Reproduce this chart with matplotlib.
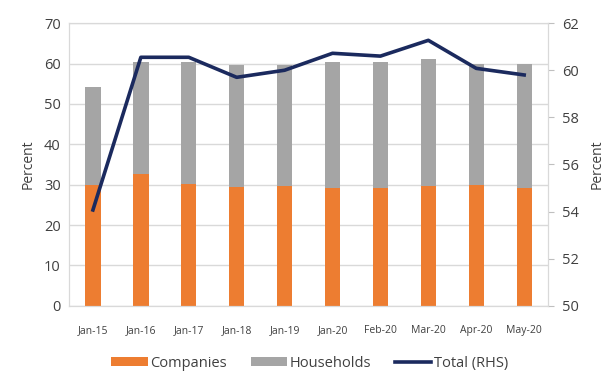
import matplotlib
matplotlib.use("Agg")
import matplotlib.pyplot as plt
import numpy as np

labels = ["Jan-15", "Jan-16", "Jan-17", "Jan-18", "Jan-19",
          "Jan-20", "Feb-20", "Mar-20", "Apr-20", "May-20"]
companies = [30.0, 32.7, 30.2, 29.4, 29.7, 29.2, 29.3, 29.7, 29.8, 29.2]
bar_totals = [54.2, 60.4, 60.4, 59.6, 59.6, 60.4, 60.4, 61.1, 59.9, 59.9]
households = [t - c for t, c in zip(bar_totals, companies)]
total_rhs = [54.07, 60.55, 60.55, 59.7, 60.0, 60.72, 60.6, 61.27, 60.08, 59.8]

plt.rcParams["font.family"] = ["Open Sans", "DejaVu Sans"]
text_col = "#404040"
grid_col = "#d9d9d9"

fig = plt.figure(figsize=(6.05, 3.73), dpi=100)
ax = fig.add_axes([0.114, 0.180, 0.792, 0.758])
x = np.arange(len(labels))

b1 = ax.bar(x, companies, width=0.32, color="#ED7D31", label="Companies", zorder=2)
b2 = ax.bar(x, households, width=0.32, bottom=companies, color="#A5A5A5",
            label="Households", zorder=2)
ax.set_ylim(0, 70)
ax.set_xlim(-0.5, len(labels) - 0.5)
ax.set_yticks(range(0, 71, 10))
ax.yaxis.grid(True, color=grid_col, linewidth=1, zorder=0)
ax.set_axisbelow(True)
ax.set_xticks(x)
ax.set_xticklabels(labels, fontsize=7.5)
ax.tick_params(axis="y", length=0, labelsize=10.5, colors=text_col, pad=6)
ax.tick_params(axis="x", length=0, colors=text_col, pad=14)
ax.set_ylabel("Percent", fontsize=10, color=text_col, labelpad=6)
for s in ax.spines.values():
    s.set_color(grid_col)

ax2 = ax.twinx()
ln, = ax2.plot(x, total_rhs, color="#1B2A5E", linewidth=2.6, label="Total (RHS)",
               zorder=3)
ax2.set_ylim(50, 62)
ax2.set_yticks(range(50, 63, 2))
ax2.tick_params(axis="y", length=4, color="#bfbfbf", labelsize=10.5,
                colors=text_col, pad=6)
ax2.tick_params(axis="y", color="#bfbfbf")
ax2.set_ylabel("Percent", fontsize=10, color=text_col, labelpad=8)
for s in ax2.spines.values():
    s.set_color(grid_col)

fig.legend(handles=[b1, b2, ln], loc="center", bbox_to_anchor=(0.512, 0.026),
           ncol=3, frameon=False, fontsize=10.5, handlelength=2.5,
           handleheight=0.5, columnspacing=1.6, handletextpad=0.2,
           labelcolor=text_col)

fig.savefig("out.png", dpi=100)
plt.close(fig)
